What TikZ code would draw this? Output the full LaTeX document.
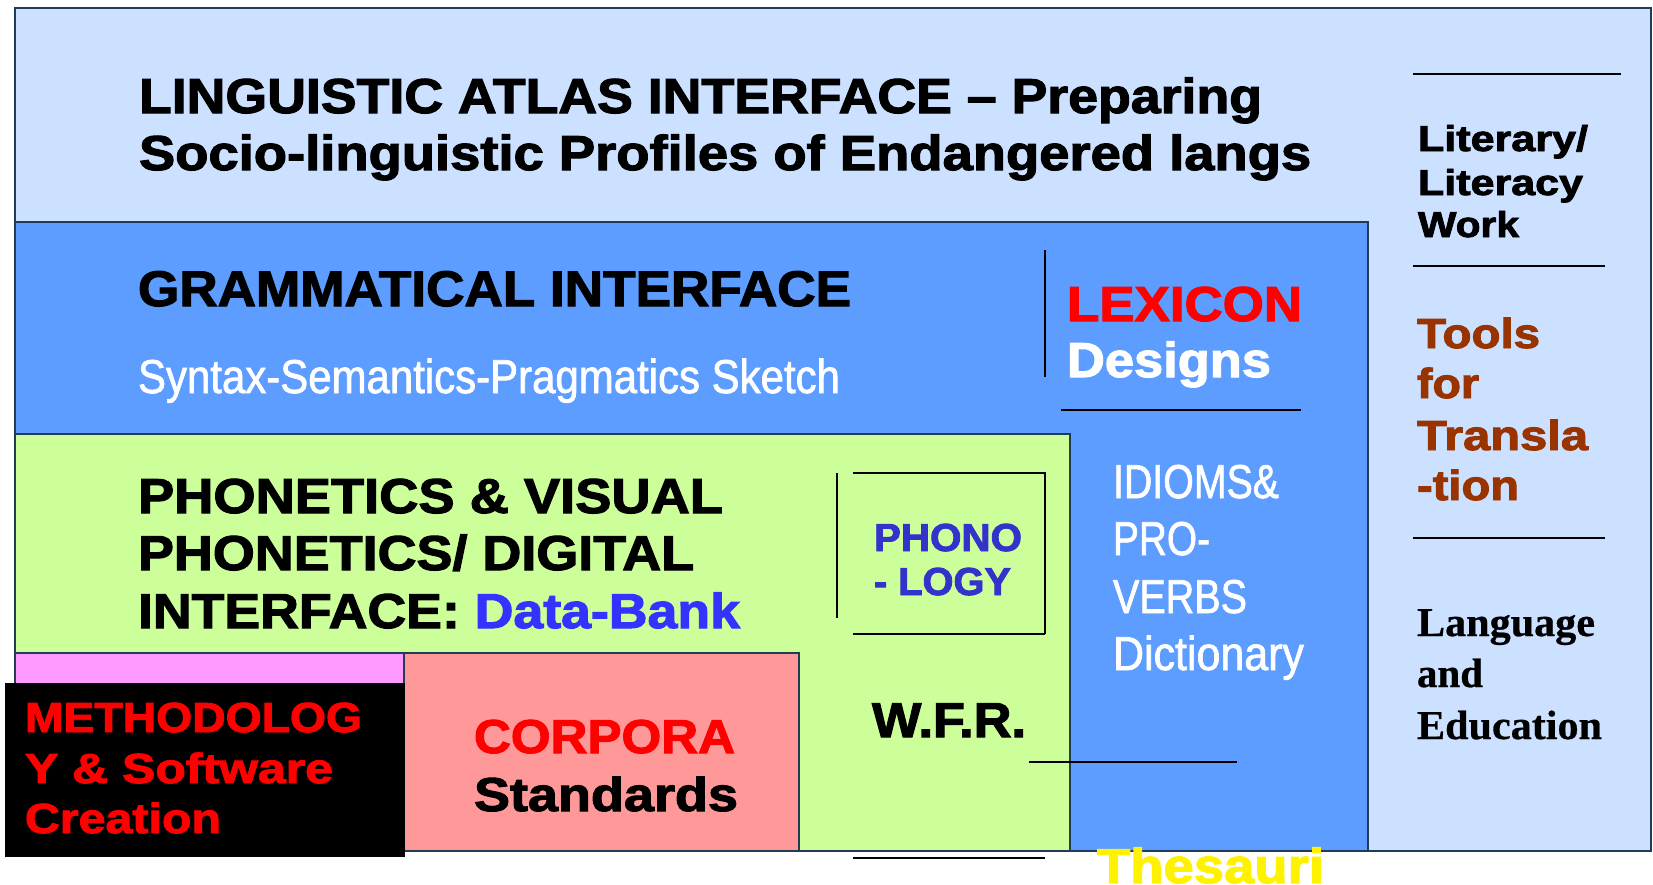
\documentclass[tikz,border=0pt]{standalone}
\usepackage{fontspec}
\usepackage{graphicx}
\setmainfont{Liberation Sans}[BoldFeatures={FakeBold=2.2}]
\newfontfamily\narrowface{Liberation Sans}[FakeBold=1.6]
\newfontfamily\serifface{Liberation Serif}[BoldFeatures={FakeBold=0.6}]
\newcommand\fitw[3]{\resizebox{#1pt}{\height}{\fontsize{#2pt}{#2pt}\selectfont #3}}
\definecolor{lightbg}{RGB}{204,224,255}
\definecolor{midblue}{RGB}{92,157,255}
\definecolor{lightgreen}{RGB}{204,255,153}
\definecolor{pinkbox}{RGB}{255,153,255}
\definecolor{salmonbox}{RGB}{255,153,153}
\definecolor{boxline}{RGB}{35,60,85}
\definecolor{brownt}{RGB}{153,51,0}
\definecolor{databank}{RGB}{51,51,255}
\definecolor{phonob}{RGB}{51,51,204}
\tikzset{
  panel/.style={draw=boxline, line width=2.8pt},
  rule/.style={draw=black, line width=2.5pt},
  thinrule/.style={draw=black, line width=1.5pt},
  txt/.style={inner sep=0pt, outer sep=0pt, anchor=base west},
}
\begin{document}
\begin{tikzpicture}[x=1pt,y=-1pt]
\useasboundingbox (0,0) rectangle (1653,884);
\fill[white] (0,0) rectangle (1653,884);
% panels
\path[panel, fill=lightbg] (15,8) rectangle (1651,851);
\path[panel, fill=midblue] (15,222) rectangle (1368,851);
\path[panel, fill=lightgreen] (15,434) rectangle (1070,851);
\path[panel, fill=pinkbox] (15,653) rectangle (404,851);
\path[panel, fill=salmonbox] (404,653) rectangle (799,851);
\fill[black] (5,683) rectangle (405,857);
% rules
\draw[rule] (1413,74) -- (1621,74);
\draw[rule] (1413,266) -- (1605,266);
\draw[rule] (1413,538) -- (1605,538);
\draw[thinrule] (1045,250) -- (1045,377);
\draw[rule] (1061,410) -- (1301,410);
\draw[thinrule] (837,473) -- (837,618);
\draw[thinrule] (853,473) -- (1045,473) -- (1045,634);
\draw[rule] (853,634) -- (1045,634);
\draw[thinrule] (1029,762) -- (1237,762);
\draw[thinrule] (853,858) -- (1045,858);
% texts
\node[txt] (atlasA) at (139,113) {\fitw{1123}{49}{\bfseries LINGUISTIC ATLAS INTERFACE – Preparing}};
\node[txt] (atlasB) at (139,170) {\fitw{1172}{49}{\bfseries Socio-linguistic Profiles of Endangered langs}};
\node[txt] (gramA) at (138,306) {\fitw{713}{50}{\bfseries GRAMMATICAL INTERFACE}};
\node[txt, text=white] (gramB) at (138,393) {\fitw{702}{47.5}{\narrowface Syntax-Semantics-Pragmatics Sketch}};
\node[txt] (phonA) at (138,513) {\fitw{585}{49}{\bfseries PHONETICS \& VISUAL}};
\node[txt] (phonB) at (138,570) {\fitw{556}{49}{\bfseries PHONETICS/ DIGITAL}};
\node[txt] (phonC) at (138,628) {\fitw{602}{49}{\bfseries INTERFACE: \textcolor{databank}{Data-Bank}}};
\node[txt, text=phonob] (phonoA) at (874,551) {\fitw{148}{39}{\bfseries PHONO}};
\node[txt, text=phonob] (phonoB) at (874,595) {\fitw{137}{39}{\bfseries - LOGY}};
\node[txt] (wfr) at (872,737) {\fitw{154}{49}{\bfseries W.F.R.}};
\node[txt, text=red] (lexA) at (1067,321) {\fitw{235}{49}{\bfseries LEXICON}};
\node[txt, text=white] (lexB) at (1067,377) {\fitw{204}{49}{\bfseries Designs}};
\node[txt, text=white] (idA) at (1113,498) {\fitw{166}{47.5}{\narrowface IDIOMS\&}};
\node[txt, text=white] (idB) at (1113,555) {\fitw{97}{47.5}{\narrowface PRO-}};
\node[txt, text=white] (idC) at (1113,613) {\fitw{134}{47.5}{\narrowface VERBS}};
\node[txt, text=white] (idD) at (1113,670) {\fitw{191}{47.5}{\narrowface Dictionary}};
\node[txt, text=yellow] (thes) at (1097,883) {\fitw{227}{49}{\bfseries Thesauri}};
\node[txt] (litA) at (1418,151) {\fitw{170}{36}{\bfseries Literary/}};
\node[txt] (litB) at (1418,195) {\fitw{165}{36}{\bfseries Literacy}};
\node[txt] (litC) at (1418,237) {\fitw{101}{36}{\bfseries Work}};
\node[txt, text=brownt] (toolA) at (1417,348) {\fitw{123}{42}{\bfseries Tools}};
\node[txt, text=brownt] (toolB) at (1417,398) {\fitw{62}{42}{\bfseries for}};
\node[txt, text=brownt] (toolC) at (1417,450) {\fitw{171}{42}{\bfseries Transla}};
\node[txt, text=brownt] (toolD) at (1417,500) {\fitw{102}{42}{\bfseries -tion}};
\node[txt] (langA) at (1417,636) {\fitw{178}{41}{\serifface\bfseries Language}};
\node[txt] (langB) at (1417,687) {\fitw{66}{41}{\serifface\bfseries and}};
\node[txt] (langC) at (1417,739) {\fitw{185}{41}{\serifface\bfseries Education}};
\node[txt, text=red] (methA) at (25,732) {\fitw{337}{42}{\bfseries METHODOLOG}};
\node[txt, text=red] (methB) at (25,783) {\fitw{308}{42}{\bfseries Y \& Software}};
\node[txt, text=red] (methC) at (25,833) {\fitw{196}{42}{\bfseries Creation}};
\node[txt, text=red] (corA) at (474,753) {\fitw{261}{47.5}{\bfseries CORPORA}};
\node[txt] (corB) at (474,811) {\fitw{264}{47.5}{\bfseries Standards}};
\end{tikzpicture}
\end{document}
